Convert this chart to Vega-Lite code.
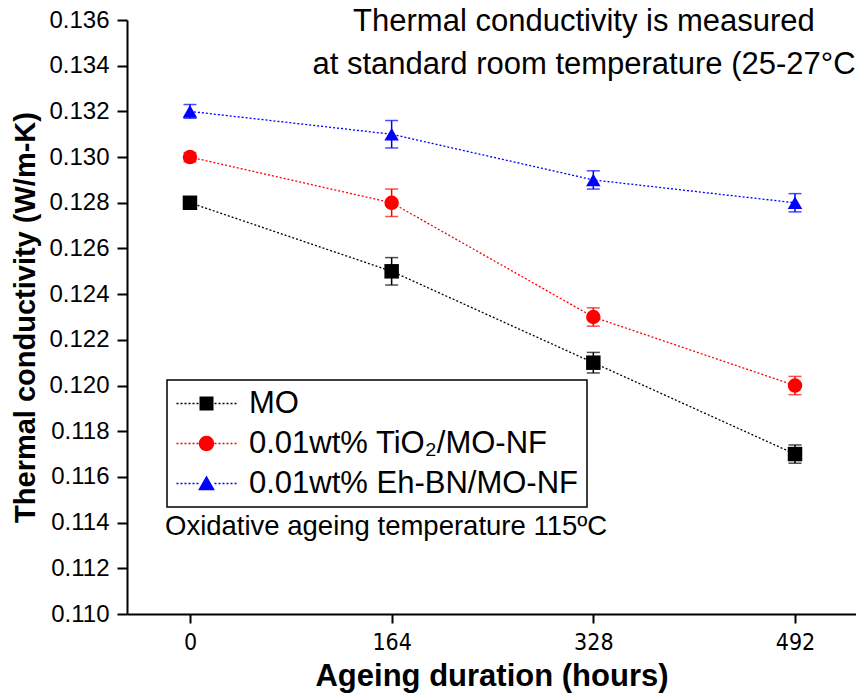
{
  "$schema": "https://vega.github.io/schema/vega-lite/v6.json",
  "width": 729,
  "height": 594,
  "autosize": {"type": "none"},
  "padding": {"left": 127, "top": 20, "right": 0, "bottom": 86},
  "config": {
    "view": {"stroke": null},
    "font": "Liberation Sans, Arial, sans-serif",
    "legend": {"strokeWidth": 1.5}
  },
  "layer": [
    {
      "data": {
        "values": [
          {"series": "MO", "hours": 0, "k": 0.128, "err": 0.0002},
          {"series": "MO", "hours": 164, "k": 0.125, "err": 0.0006},
          {"series": "MO", "hours": 328, "k": 0.121, "err": 0.00045},
          {"series": "MO", "hours": 492, "k": 0.117, "err": 0.0004},
          {"series": "0.01wt% TiO₂/MO-NF", "hours": 0, "k": 0.130, "err": 0.0002},
          {"series": "0.01wt% TiO₂/MO-NF", "hours": 164, "k": 0.128, "err": 0.0006},
          {"series": "0.01wt% TiO₂/MO-NF", "hours": 328, "k": 0.123, "err": 0.0004},
          {"series": "0.01wt% TiO₂/MO-NF", "hours": 492, "k": 0.120, "err": 0.0004},
          {"series": "0.01wt% Eh-BN/MO-NF", "hours": 0, "k": 0.132, "err": 0.0003},
          {"series": "0.01wt% Eh-BN/MO-NF", "hours": 164, "k": 0.131, "err": 0.0006},
          {"series": "0.01wt% Eh-BN/MO-NF", "hours": 328, "k": 0.129, "err": 0.0004},
          {"series": "0.01wt% Eh-BN/MO-NF", "hours": 492, "k": 0.128, "err": 0.0004}
        ]
      },
      "encoding": {
        "x": {
          "field": "hours",
          "type": "quantitative",
          "scale": {"domain": [-51.2, 541.6], "nice": false, "zero": false},
          "axis": {
            "values": [0, 164, 328, 492],
            "title": "Ageing duration (hours)",
            "titleFontSize": 31,
            "titleFontWeight": "bold",
            "titleColor": "black",
            "titlePadding": 7,
            "labelFontSize": 23,
            "labelFont": "Liberation Sans Narrow, Arial Narrow, DejaVu Sans Condensed, sans-serif",
            "labelColor": "black",
            "labelPadding": 8,
            "labelFlush": false,
            "tickSize": 9,
            "tickWidth": 2,
            "tickColor": "black",
            "domainWidth": 2,
            "domainColor": "black",
            "grid": false
          }
        },
        "y": {
          "field": "k",
          "type": "quantitative",
          "scale": {"domain": [0.11, 0.136], "nice": false, "zero": false},
          "axis": {
            "values": [0.110, 0.111, 0.112, 0.113, 0.114, 0.115, 0.116, 0.117, 0.118, 0.119, 0.120, 0.121, 0.122, 0.123, 0.124, 0.125, 0.126, 0.127, 0.128, 0.129, 0.130, 0.131, 0.132, 0.133, 0.134, 0.135, 0.136],
            "labelExpr": "round(datum.value*1000) % 2 === 0 ? format(datum.value, '.3f') : ''",
            "title": "Thermal conductivity (W/m-K)",
            "titleFontSize": 29,
            "titleFontWeight": "bold",
            "titleColor": "black",
            "titlePadding": 8,
            "labelFontSize": 24,
            "labelColor": "black",
            "labelPadding": 8,
            "labelFlush": false,
            "tickSize": {"condition": {"test": "round(datum.value*1000) % 2 === 0", "value": 10}, "value": 5},
            "tickWidth": 2,
            "tickColor": "black",
            "domainWidth": 2,
            "domainColor": "black",
            "grid": false
          }
        }
      },
      "layer": [
        {
          "transform": [{"filter": "datum.series === 'MO'"}],
          "mark": {"type": "line", "color": "#000000", "strokeDash": [2, 2], "strokeWidth": 1.3}
        },
        {
          "transform": [{"filter": "datum.series === '0.01wt% TiO₂/MO-NF'"}],
          "mark": {"type": "line", "color": "#ff0000", "strokeDash": [2, 2], "strokeWidth": 1.3}
        },
        {
          "transform": [{"filter": "datum.series === '0.01wt% Eh-BN/MO-NF'"}],
          "mark": {"type": "line", "color": "#0000ff", "strokeDash": [2, 2], "strokeWidth": 1.3}
        },
        {
          "transform": [{"filter": "datum.series === 'MO'"}],
          "mark": {"type": "errorbar", "color": "#000000", "ticks": {"size": 13}, "thickness": 1.5},
          "encoding": {"yError": {"field": "err"}}
        },
        {
          "transform": [{"filter": "datum.series === '0.01wt% TiO₂/MO-NF'"}],
          "mark": {"type": "errorbar", "color": "#ff0000", "ticks": {"size": 13}, "thickness": 1.5},
          "encoding": {"yError": {"field": "err"}}
        },
        {
          "transform": [{"filter": "datum.series === '0.01wt% Eh-BN/MO-NF'"}],
          "mark": {"type": "errorbar", "color": "#0000ff", "ticks": {"size": 13}, "thickness": 1.5},
          "encoding": {"yError": {"field": "err"}}
        },
        {
          "mark": {"type": "point", "filled": true, "size": 196, "opacity": 0},
          "encoding": {
            "color": {
              "field": "series",
              "type": "nominal",
              "scale": {
                "domain": ["MO", "0.01wt% TiO₂/MO-NF", "0.01wt% Eh-BN/MO-NF"],
                "range": ["#000000", "#ff0000", "#0000ff"]
              },
              "legend": {
                "title": null,
                "orient": "none",
                "legendX": 40,
                "legendY": 360,
                "direction": "vertical",
                "strokeColor": "black",
                "padding": 8,
                "labelFontSize": 31,
                "labelColor": "black",
                "labelLimit": 600,
                "symbolSize": 196,
                "symbolOpacity": 1,
                "symbolStrokeWidth": 0,
                "symbolOffset": 16,
                "labelOffset": 27,
                "rowPadding": 8
              }
            },
            "shape": {
              "field": "series",
              "type": "nominal",
              "scale": {
                "domain": ["MO", "0.01wt% TiO₂/MO-NF", "0.01wt% Eh-BN/MO-NF"],
                "range": [
                  "M-1 -1h2v2h-2zM-4.286 -0.1h0.286v0.2h-0.286zM-3.714 -0.1h0.286v0.2h-0.286zM-3.143 -0.1h0.286v0.2h-0.286zM-2.571 -0.1h0.286v0.2h-0.286zM-2 -0.1h0.286v0.2h-0.286zM-1.429 -0.1h0.286v0.2h-0.286zM1.143 -0.1h0.286v0.2h-0.286zM1.714 -0.1h0.286v0.2h-0.286zM2.286 -0.1h0.286v0.2h-0.286zM2.857 -0.1h0.286v0.2h-0.286zM3.429 -0.1h0.286v0.2h-0.286zM4 -0.1h0.286v0.2h-0.286z",
                  "M-1.1 0a1.1 1.1 0 1 0 2.2 0a1.1 1.1 0 1 0 -2.2 0zM-4.286 -0.1h0.286v0.2h-0.286zM-3.714 -0.1h0.286v0.2h-0.286zM-3.143 -0.1h0.286v0.2h-0.286zM-2.571 -0.1h0.286v0.2h-0.286zM-2 -0.1h0.286v0.2h-0.286zM-1.429 -0.1h0.286v0.2h-0.286zM1.143 -0.1h0.286v0.2h-0.286zM1.714 -0.1h0.286v0.2h-0.286zM2.286 -0.1h0.286v0.2h-0.286zM2.857 -0.1h0.286v0.2h-0.286zM3.429 -0.1h0.286v0.2h-0.286zM4 -0.1h0.286v0.2h-0.286z",
                  "M0 -1.15L1.2 0.95H-1.2zM-4.286 -0.1h0.286v0.2h-0.286zM-3.714 -0.1h0.286v0.2h-0.286zM-3.143 -0.1h0.286v0.2h-0.286zM-2.571 -0.1h0.286v0.2h-0.286zM-2 -0.1h0.286v0.2h-0.286zM-1.429 -0.1h0.286v0.2h-0.286zM1.143 -0.1h0.286v0.2h-0.286zM1.714 -0.1h0.286v0.2h-0.286zM2.286 -0.1h0.286v0.2h-0.286zM2.857 -0.1h0.286v0.2h-0.286zM3.429 -0.1h0.286v0.2h-0.286zM4 -0.1h0.286v0.2h-0.286z"
                ]
              },
              "legend": {
                "title": null,
                "orient": "none",
                "legendX": 40,
                "legendY": 360,
                "direction": "vertical",
                "strokeColor": "black",
                "padding": 8,
                "labelFontSize": 31,
                "labelColor": "black",
                "labelLimit": 600,
                "symbolSize": 196,
                "symbolOpacity": 1,
                "symbolStrokeWidth": 0,
                "symbolOffset": 16,
                "labelOffset": 27,
                "rowPadding": 8
              }
            }
          }
        },
        {
          "transform": [{"filter": "datum.series === 'MO'"}],
          "mark": {"type": "point", "shape": "square", "color": "#000000", "filled": true, "size": 210, "opacity": 1}
        },
        {
          "transform": [{"filter": "datum.series === '0.01wt% TiO₂/MO-NF'"}],
          "mark": {"type": "point", "shape": "circle", "color": "#ff0000", "filled": true, "size": 210, "opacity": 1}
        },
        {
          "transform": [{"filter": "datum.series === '0.01wt% Eh-BN/MO-NF'"}],
          "mark": {"type": "point", "shape": "triangle-up", "color": "#0000ff", "filled": true, "size": 210, "opacity": 1}
        }
      ]
    },
    {
      "data": {"values": [{"note": "Thermal conductivity is measured"}]},
      "mark": {"type": "text", "fontSize": 31, "align": "center", "baseline": "middle", "color": "black"},
      "encoding": {"text": {"field": "note"}, "x": {"datum": 320.4, "type": "quantitative"}, "y": {"datum": 0.13591, "type": "quantitative"}}
    },
    {
      "data": {"values": [{"note": "at standard room temperature (25-27°C"}]},
      "mark": {"type": "text", "fontSize": 31, "align": "center", "baseline": "middle", "color": "black"},
      "encoding": {"text": {"field": "note"}, "x": {"datum": 320.4, "type": "quantitative"}, "y": {"datum": 0.13403, "type": "quantitative"}}
    },
    {
      "data": {"values": [{"note": "Oxidative ageing temperature 115ºC"}]},
      "mark": {"type": "text", "fontSize": 27.5, "align": "left", "baseline": "middle", "color": "black"},
      "encoding": {"text": {"field": "note"}, "x": {"datum": -20.3, "type": "quantitative"}, "y": {"datum": 0.11381, "type": "quantitative"}}
    }
  ]
}
